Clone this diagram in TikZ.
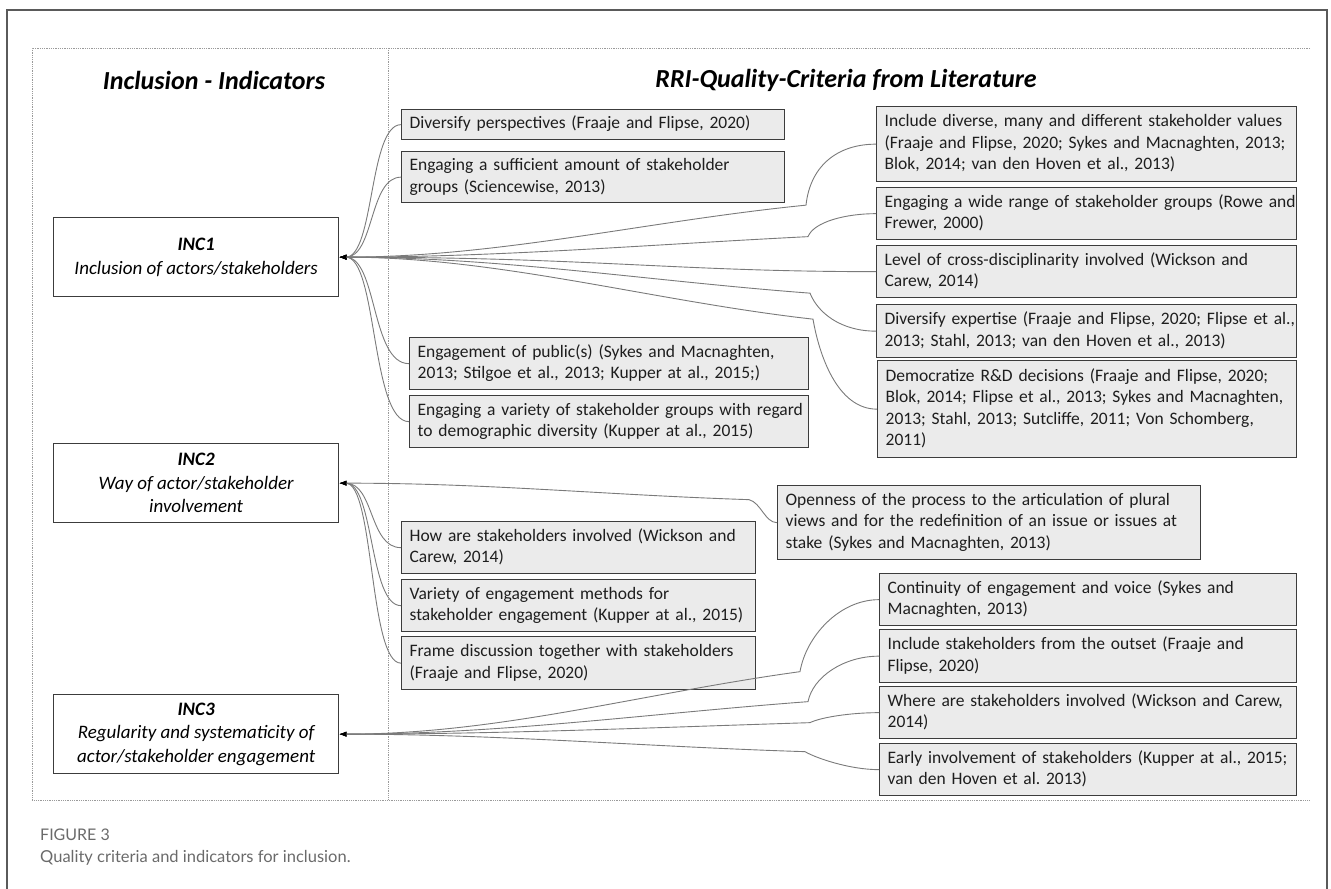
\documentclass[tikz,border=0pt]{standalone}
\usepackage{fontspec}
\setmainfont{Carlito}
\newfontfamily\capfont{Lato}
\usetikzlibrary{arrows.meta,calc}
\definecolor{boxfill}{HTML}{EBEBEB}
\definecolor{boxline}{HTML}{3C3C3C}
\definecolor{connline}{HTML}{7A7A7A}
\definecolor{dotline}{HTML}{9A9A9A}
\definecolor{frameline}{HTML}{5A5A5A}
\definecolor{captext}{HTML}{6A6A6A}
\definecolor{txt}{HTML}{1E1E1E}
\newcommand{\cellines}[1]{\begin{tabular}[c]{@{}l@{}}#1\end{tabular}}
\frenchspacing
\begin{document}
\begin{tikzpicture}[x=1pt,y=-1pt,
  crit/.style={draw=boxline, fill=boxfill, line width=1.3pt, anchor=north west,
    inner xsep=8pt, inner ysep=2pt, text=txt,
    font=\fontsize{17.5}{21.5}\selectfont, align=left},
  ind/.style={draw=boxline, fill=white, line width=1.3pt, anchor=north west,
    minimum width=285pt, minimum height=79pt, align=center, text=black,
    font=\fontsize{19}{23.5}\selectfont\itshape},
  ttl/.style={font=\fontsize{26}{30}\selectfont\bfseries\itshape, text=black},
  conn/.style={draw=connline, line width=0.9pt, {Latex[length=7pt,width=5pt,color=black]}-},
  dotfr/.style={draw=dotline, line width=0.8pt, densely dotted},
  capstyle/.style={anchor=west, inner sep=0pt, text=captext}
]
\useasboundingbox (0,0) rectangle (1331,889);
% outer frame
\draw[frameline, line width=1.5pt] (7,889) -- (7,10) -- (1327,10) -- (1327,889);
% dotted frame
\draw[dotfr] (1310,48) -- (32,48) -- (32,800) -- (1310,800);
\draw[dotfr] (388,48) -- (388,800);
% titles
\node[ttl] (tleft) at (214,80) {Inclusion - Indicators};
\node[ttl] (tright) at (846,80) {RRI-Quality-Criteria from Literature};
% indicator boxes
\node[ind] (inc1) at (53,217) {{\bfseries INC1}\\Inclusion of actors/stakeholders};
\node[ind] (inc2) at (53,443) {{\bfseries INC2}\\Way of actor/stakeholder\\involvement};
\node[ind] (inc3) at (53,694) {{\bfseries INC3}\\Regularity and systematicity of\\actor/stakeholder engagement};
% criteria boxes, left column
\node[crit, minimum width=383pt, minimum height=30pt, text width=367pt] (A) at (401,109) {\cellines{Diversify perspectives (Fraaje and Flipse, 2020)}};
\node[crit, minimum width=383pt, minimum height=51pt, text width=367pt] (B) at (401,151) {\cellines{Engaging a sufficient amount of stakeholder\\groups (Sciencewise, 2013)}};
\node[crit, minimum width=399pt, minimum height=52pt, text width=383pt] (C) at (409,337) {\cellines{Engagement of public(s) (Sykes and Macnaghten,\\2013; Stilgoe et al., 2013; Kupper at al., 2015;)}};
\node[crit, minimum width=399pt, minimum height=52pt, text width=383pt] (D) at (409,395) {\cellines{Engaging a variety of stakeholder groups with regard\\to demographic diversity (Kupper at al., 2015)}};
\node[crit, minimum width=354pt, minimum height=52pt, text width=338pt] (E) at (401,521) {\cellines{How are stakeholders involved (Wickson and\\Carew, 2014)}};
\node[crit, minimum width=354pt, minimum height=52pt, text width=338pt] (F) at (401,579) {\cellines{Variety of engagement methods for\\stakeholder engagement (Kupper at al., 2015)}};
\node[crit, minimum width=354pt, minimum height=53pt, text width=338pt] (G) at (401,636) {\cellines{Frame discussion together with stakeholders\\(Fraaje and Flipse, 2020)}};
\node[crit, minimum width=423pt, minimum height=74pt, text width=407pt] (H) at (777,485) {\cellines{Openness of the process to the articulation of plural\\views and for the redefinition of an issue or issues at\\stake (Sykes and Macnaghten, 2013)}};
% criteria boxes, right column
\node[crit, minimum width=420pt, minimum height=75pt, text width=404pt] (I) at (876,106) {\cellines{Include diverse, many and different stakeholder values\\(Fraaje and Flipse, 2020; Sykes and Macnaghten, 2013;\\Blok, 2014; van den Hoven et al., 2013)}};
\node[crit, minimum width=420pt, minimum height=52pt, text width=404pt] (J) at (876,187) {\cellines{Engaging a wide range of stakeholder groups (Rowe and\\Frewer, 2000)}};
\node[crit, minimum width=420pt, minimum height=52pt, text width=404pt] (K) at (876,245) {\cellines{Level of cross-disciplinarity involved (Wickson and\\Carew, 2014)}};
\node[crit, minimum width=420pt, minimum height=53pt, text width=404pt] (L) at (876,304) {\cellines{Diversify expertise (Fraaje and Flipse, 2020; Flipse et al.,\\2013; Stahl, 2013; van den Hoven et al., 2013)}};
\node[crit, minimum width=419pt, minimum height=97pt, text width=403pt] (M) at (877,360) {\cellines{Democratize R\&D decisions (Fraaje and Flipse, 2020;\\Blok, 2014; Flipse et al., 2013; Sykes and Macnaghten,\\2013; Stahl, 2013; Sutcliffe, 2011; Von Schomberg,\\2011)}};
\node[crit, minimum width=417pt, minimum height=52pt, text width=401pt] (N) at (879,573) {\cellines{Continuity of engagement and voice (Sykes and\\Macnaghten, 2013)}};
\node[crit, minimum width=417pt, minimum height=53pt, text width=401pt] (O) at (879,629) {\cellines{Include stakeholders from the outset (Fraaje and\\Flipse, 2020)}};
\node[crit, minimum width=417pt, minimum height=52pt, text width=401pt] (P) at (879,686) {\cellines{Where are stakeholders involved (Wickson and Carew,\\2014)}};
\node[crit, minimum width=417pt, minimum height=52pt, text width=401pt] (Q) at (879,743) {\cellines{Early involvement of stakeholders (Kupper at al., 2015;\\van den Hoven et al. 2013)}};
% connectors INC1
\draw[conn] (inc1.east) .. controls +(35,0) and +(-32,0) .. (A.west);
\draw[conn] (inc1.east) .. controls +(35,0) and +(-32,0) .. (B.west);
\draw[conn] (inc1.east) .. controls +(38,0) and +(-38,0) .. (C.west);
\draw[conn] (inc1.east) .. controls +(38,0) and +(-38,0) .. (D.west);
\draw[conn] (inc1.east) .. controls +(160,0) and +(-160,16) .. ($(I.west)+(-70,61)$) .. controls +(4,-38) and +(-40,0) .. (I.west);
\draw[conn] (inc1.east) .. controls +(160,0) and +(-160,8) .. ($(J.west)+(-68,23)$) .. controls +(6,-15) and +(-30,0) .. (J.west);
\draw[conn] (inc1.east) .. controls +(250,0) and +(-200,0) .. (K.west);
\draw[conn] (inc1.east) .. controls +(160,0) and +(-160,-12) .. ($(L.west)+(-66,-38)$) .. controls +(8,20) and +(-35,0) .. (L.west);
\draw[conn] (inc1.east) .. controls +(160,0) and +(-160,-18) .. ($(M.west)+(-64,-90)$) .. controls +(6,35) and +(-40,0) .. (M.west);
% connectors INC2
\draw[conn] (inc2.east) .. controls +(150,0) and +(-150,-5) .. ($(H.west)+(-28,-23)$) .. controls +(12,3) and +(-12,0) .. (H.west);
\draw[conn] (inc2.east) .. controls +(35,0) and +(-32,0) .. (E.west);
\draw[conn] (inc2.east) .. controls +(35,0) and +(-32,0) .. (F.west);
\draw[conn] (inc2.east) .. controls +(35,0) and +(-32,0) .. (G.west);
% connectors INC3
\draw[conn] (inc3.east) .. controls +(160,0) and +(-160,22) .. ($(N.west)+(-79,72)$) .. controls +(6,-35) and +(-40,0) .. (N.west);
\draw[conn] (inc3.east) .. controls +(160,0) and +(-160,12) .. ($(O.west)+(-71,45.5)$) .. controls +(5,-25) and +(-35,0) .. (O.west);
\draw[conn] (inc3.east) .. controls +(160,0) and +(-160,5) .. ($(P.west)+(-69,10)$) .. controls +(10,-5) and +(-30,0) .. (P.west);
\draw[conn] (inc3.east) .. controls +(160,0) and +(-160,-5) .. ($(Q.west)+(-74,-18)$) .. controls +(10,6) and +(-30,0) .. (Q.west);
% caption
\node[capstyle, font=\capfont\fontsize{16}{18}\selectfont] (figlabel) at (40,835) {FIGURE 3};
\node[capstyle, font=\capfont\fontsize{16.5}{19}\selectfont] (figcap) at (40,858) {Quality criteria and indicators for inclusion.};
\end{tikzpicture}
\end{document}
